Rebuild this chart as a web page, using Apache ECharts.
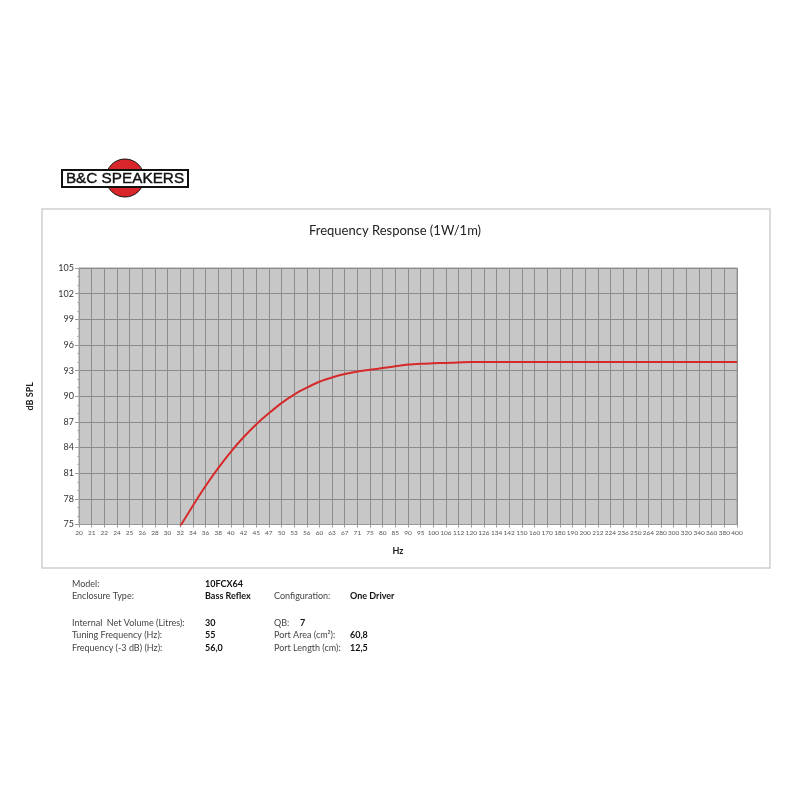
<!DOCTYPE html>
<html>
<head>
<meta charset="utf-8">
<script src="https://cdn.jsdelivr.net/npm/echarts@6/dist/echarts.min.js"></script>
<style>html,body{margin:0;padding:0;background:#fff;}#c{width:800px;height:800px;}</style>
</head>
<body>
<div id="c"></div>
<script>
const freqLabels = ['20','21','22','24','25','26','28','30','32','34','36','38','40','42','45','47','50','53','56','60','63','67','71','75','80','85','90','95','100','106','112','120','126','134','142','150','160','170','180','190','200','212','224','236','250','264','280','300','320','340','360','380','400'];
const splValues = [null,null,null,null,null,null,null,72.4,74.8,77.2,79.5,81.6,83.5,85.2,86.7,88.0,89.2,90.2,91.0,91.7,92.2,92.6,92.9,93.1,93.3,93.5,93.7,93.8,93.85,93.9,93.95,94.0,94.0,94.0,94.0,94.0,94.0,94.0,94.0,94.0,94.0,94.0,94.0,94.0,94.0,94.0,94.0,94.0,94.0,94.0,94.0,94.0,94.0];
const specLabelsLeft = ['Model:','Enclosure Type:','Internal  Net Volume (Litres):','Tuning Frequency (Hz):','Frequency (-3 dB) (Hz):'];
const specValuesLeft = ['10FCX64','Bass Reflex','30','55','56,0'];
const specLabelsRight = ['Configuration:','QB:','Port Area (cm²):','Port Length (cm):'];
const specValuesRight = ['One Driver','7','60,8','12,5'];

const FONT = 'Lato, "DejaVu Sans", sans-serif';
const chart = echarts.init(document.getElementById('c'), null, {renderer:'canvas'});

const rowsLeftY = [584, 596, 623, 635, 648];
const rowsRightY = [596, 623, 635, 648];
const valRightX = [350, 300, 350, 350];
const graphics = [
  {type:'rect', shape:{x:42,y:209,width:728,height:359}, style:{fill:'none', stroke:'#cfcfcf', lineWidth:1.5}, z:-10},
  {type:'circle', shape:{cx:125, cy:178, r:19}, style:{fill:'#d9262b', stroke:'#111', lineWidth:1}},
  {type:'rect', shape:{x:62,y:170,width:126,height:17}, style:{fill:'#fff', stroke:'#111', lineWidth:2}},
  {type:'text', x:125, y:179, scaleX:1.02, originX:0, style:{text:'B&C SPEAKERS', fill:'#111', font:'15px "Liberation Sans", Arial, sans-serif', align:'center', verticalAlign:'middle', stroke:'#111', lineWidth:0.4}},
  {type:'text', x:395, y:231, style:{text:'Frequency Response (1W/1m)', fill:'#222', font:'13px '+FONT, align:'center', verticalAlign:'middle'}},
  {type:'text', x:398, y:551, style:{text:'Hz', fill:'#222', font:'bold 9px '+FONT, align:'center', verticalAlign:'middle'}}
];
specLabelsLeft.forEach((t,i)=>graphics.push({type:'text', x:72, y:rowsLeftY[i], style:{text:t, fill:'#444', font:'9px '+FONT, verticalAlign:'middle'}}));
specValuesLeft.forEach((t,i)=>graphics.push({type:'text', x:205, y:rowsLeftY[i], style:{text:t, fill:'#111', font:'bold 9px '+FONT, verticalAlign:'middle'}}));
specLabelsRight.forEach((t,i)=>graphics.push({type:'text', x:274, y:rowsRightY[i], style:{text:t, fill:'#444', font:'9px '+FONT, verticalAlign:'middle'}}));
specValuesRight.forEach((t,i)=>graphics.push({type:'text', x:valRightX[i], y:rowsRightY[i], style:{text:t, fill:'#111', font:'bold 9px '+FONT, verticalAlign:'middle'}}));

chart.setOption({
  backgroundColor:'#fff',
  animation:false,
  grid:{left:79, right:63, top:268, bottom:275.5, show:true, backgroundColor:'#c7c7c7', borderColor:'#9a9a9a', borderWidth:1},
  xAxis:{
    type:'category', data:freqLabels, boundaryGap:false,
    axisLine:{show:true, lineStyle:{color:'#999'}},
    axisTick:{show:true, interval:0, length:3, lineStyle:{color:'#999'}},
    axisLabel:{interval:0, fontSize:6.5, color:'#555', margin:5, fontFamily:FONT, hideOverlap:false},
    splitLine:{show:true, interval:0, lineStyle:{color:'#8c8c8c', width:1}}
  },
  yAxis:{
    type:'value', min:75, max:105, interval:3,
    name:'dB SPL', nameLocation:'middle', nameRotate:90, nameGap:44,
    nameTextStyle:{fontSize:9, fontWeight:'bold', color:'#222', fontFamily:FONT},
    axisLine:{show:true, lineStyle:{color:'#999'}},
    axisTick:{show:true, length:4, lineStyle:{color:'#999'}},
    minorTick:{show:true, splitNumber:3, length:2, lineStyle:{color:'#bbb'}},
    axisLabel:{fontSize:9, color:'#333', margin:5, fontFamily:FONT},
    splitLine:{show:true, lineStyle:{color:'#8c8c8c', width:1}}
  },
  series:[{
    type:'line', data:splValues, showSymbol:false, smooth:0.3, clip:true,
    lineStyle:{color:'#d62a2a', width:2}
  }],
  graphic:graphics
});
</script>
</body>
</html>
